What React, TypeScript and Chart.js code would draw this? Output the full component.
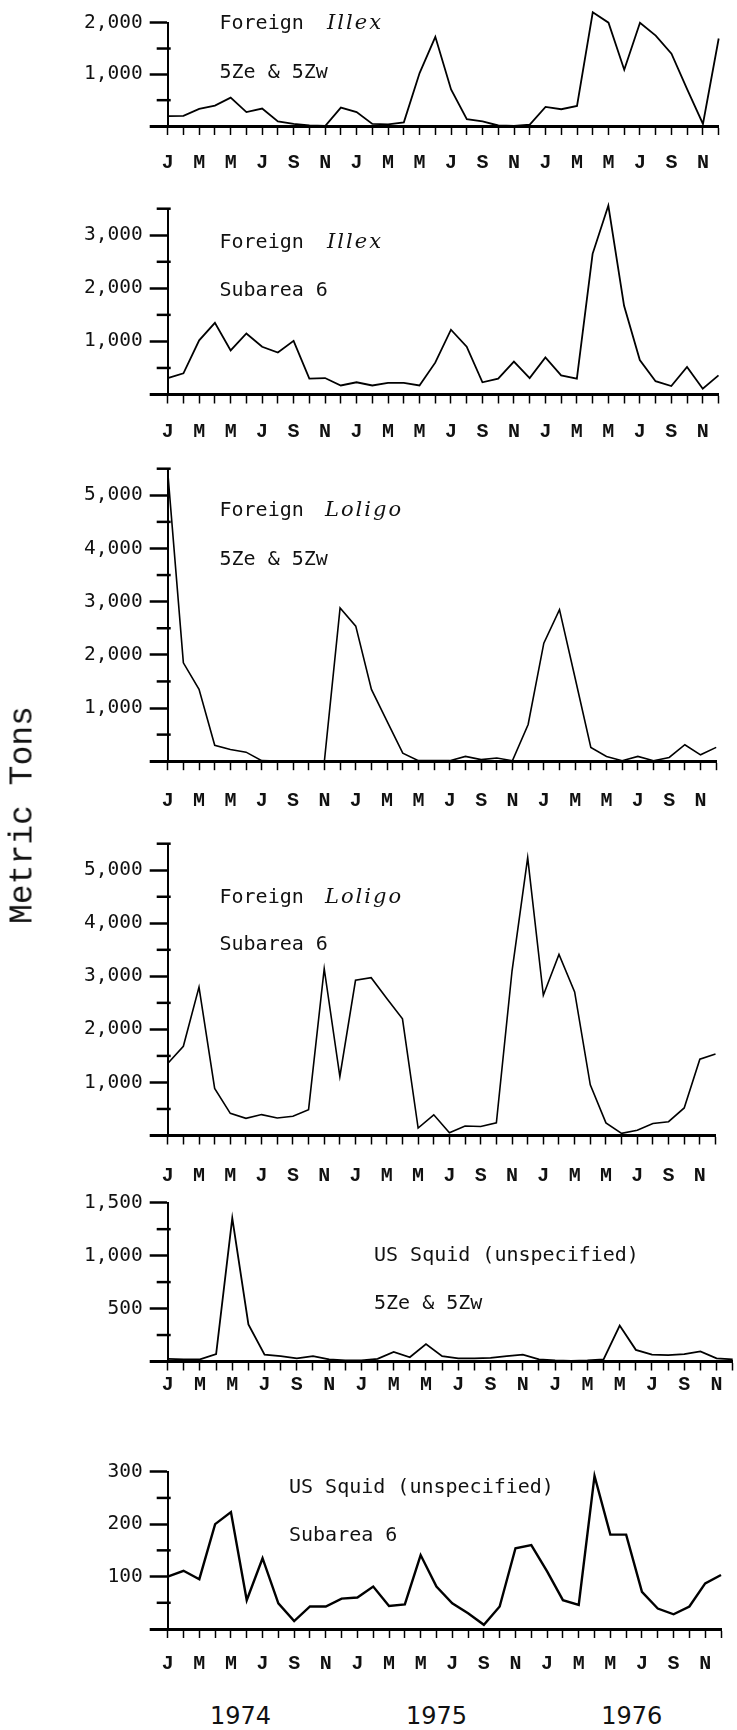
import React, { useEffect, useRef } from 'react';
import { Chart, registerables } from 'chart.js';

Chart.register(...registerables);

// ---------- data ----------
const MONTHS = ['J', 'F', 'M', 'A', 'M', 'J', 'J', 'A', 'S', 'O', 'N', 'D'];
const categories = [...MONTHS, ...MONTHS, ...MONTHS]; // Jan 1974 .. Dec 1976
const years = ['1974', '1975', '1976'];

const foreignIllex5Z = [
  190, 195, 330, 395, 550, 270, 338, 90, 40, 10, 0, 357,
  270, 40, 30, 70, 1025, 1726, 707, 134, 90, 10, 0, 25,
  369, 325, 389, 2200, 2000, 1090, 2000, 1750, 1400, 707, 40, 1694,
];
const foreignIllexSA6 = [
  310, 400, 1020, 1350, 830, 1150, 900, 790, 1010, 300, 310, 170,
  230, 170, 220, 220, 170, 600, 1220, 900, 230, 300, 620, 310,
  700, 360, 300, 2650, 3560, 1670, 650, 250, 160, 520, 110, 360,
];
const foreignLoligo5Z = [
  5450, 1850, 1350, 300, 220, 170, 10, 5, 5, 5, 5, 2880,
  2540, 1350, 750, 150, 10, 10, 10, 90, 30, 60, 10, 690,
  2220, 2850, 1560, 260, 90, 10, 90, 10, 70, 310, 120, 260,
];
const foreignLoligoSA6 = [
  1357, 1682, 2797, 887, 417, 323, 394, 331, 362, 487, 3144, 1112,
  2925, 2975, 2581, 2200, 140, 390, 50, 180, 170, 240, 3100, 5237,
  2644, 3412, 2706, 956, 237, 40, 100, 225, 260, 519, 1438, 1538,
];
const usSquid5Z = [
  25, 20, 20, 70, 1355, 350, 65, 50, 30, 50, 20, 10,
  10, 25, 90, 40, 165, 50, 30, 30, 35, 50, 65, 20,
  10, 5, 10, 20, 340, 110, 65, 60, 70, 95, 30, 20,
];
const usSquidSA6 = [
  100, 111, 95, 200, 223, 55, 135, 49, 15, 43, 43, 58,
  60, 81, 44, 47, 141, 81, 49, 30, 8, 43, 154, 160,
  110, 55, 46, 292, 180, 180, 71, 39, 28, 43, 87, 103,
];

// ---------- layout ----------
const W = 737;
const AXIS_X = 167.7;
const PLOT_RIGHT = 735.4;
const PAD_TOP = 16;
const X_TICK_LEN = 9;
const X_FONT_SIZE = 20;
const MONO = '"DejaVu Sans Mono", monospace';
const TYPE = '"Liberation Mono", "Courier New", monospace';
const NOTE_FONT = `20px ${MONO}`;
const ITALIC_FONT = `italic 21px "DejaVu Serif", serif`;

type Note = { x: number; y: number; text: string; italic?: string; italicX?: number };
type Panel = {
  data: number[];
  max: number;
  major: number;
  minor: number;
  top: number;
  base: number;
  label: number;
  lineWidth: number;
  notes: Note[];
};

const panels: Panel[] = [
  {
    data: foreignIllex5Z, max: 2000, major: 1000, minor: 500,
    top: 20, base: 126, label: 163.3, lineWidth: 1.8,
    notes: [
      { x: 219.5, y: 23.3, text: 'Foreign', italic: 'Illex', italicX: 327 },
      { x: 219.5, y: 72.7, text: '5Ze & 5Zw' },
    ],
  },
  {
    data: foreignIllexSA6, max: 3500, major: 1000, minor: 500,
    top: 206, base: 394.5, label: 432, lineWidth: 1.8,
    notes: [
      { x: 219.5, y: 242.5, text: 'Foreign', italic: 'Illex', italicX: 327 },
      { x: 219.5, y: 291, text: 'Subarea 6' },
    ],
  },
  {
    data: foreignLoligo5Z, max: 5500, major: 1000, minor: 500,
    top: 466, base: 761.2, label: 801, lineWidth: 1.6,
    notes: [
      { x: 219.5, y: 510.7, text: 'Foreign', italic: 'Loligo', italicX: 325 },
      { x: 219.5, y: 559.7, text: '5Ze & 5Zw' },
    ],
  },
  {
    data: foreignLoligoSA6, max: 5500, major: 1000, minor: 500,
    top: 841.7, base: 1135.5, label: 1176, lineWidth: 1.6,
    notes: [
      { x: 219.5, y: 897.3, text: 'Foreign', italic: 'Loligo', italicX: 325 },
      { x: 219.5, y: 945, text: 'Subarea 6' },
    ],
  },
  {
    data: usSquid5Z, max: 1500, major: 500, minor: 250,
    top: 1200.7, base: 1361.5, label: 1384.8, lineWidth: 1.8,
    notes: [
      { x: 374, y: 1255.5, text: 'US Squid (unspecified)' },
      { x: 374, y: 1304, text: '5Ze & 5Zw' },
    ],
  },
  {
    data: usSquidSA6, max: 300, major: 100, minor: 50,
    top: 1469.3, base: 1629, label: 1664, lineWidth: 2.4,
    notes: [
      { x: 289, y: 1487.6, text: 'US Squid (unspecified)' },
      { x: 289, y: 1535.6, text: 'Subarea 6' },
    ],
  },
];

const YEAR_X = [240.5, 436.5, 631.7];
const YEAR_Y = 1716;

function PanelChart({ p }: { p: Panel }) {
  const ref = useRef<HTMLCanvasElement | null>(null);
  const canvasTop = Math.floor(p.top - PAD_TOP);
  const padTop = p.top - canvasTop;
  const xH = p.label - p.base + 16;
  const H = Math.ceil(padTop + (p.base - p.top) + xH);
  const padBottom = H - (padTop + (p.base - p.top) + xH);
  const xPad = p.label - p.base - X_TICK_LEN - X_FONT_SIZE / 2;

  useEffect(() => {
    const canvas = ref.current;
    if (!canvas) return;
    const extras = {
      id: 'panelExtras',
      afterDraw(chart: any) {
        const { ctx, chartArea, scales } = chart;
        const ys = scales.y;
        ctx.save();
        ctx.strokeStyle = '#000';
        ctx.lineWidth = 2.5;
        for (let v = p.minor; v <= p.max; v += p.major) {
          const py = ys.getPixelForValue(v);
          ctx.beginPath();
          ctx.moveTo(chartArea.left - 11, py);
          ctx.lineTo(chartArea.left + 3, py);
          ctx.stroke();
        }
        ctx.fillStyle = '#111';
        ctx.textBaseline = 'middle';
        ctx.textAlign = 'left';
        for (const n of p.notes) {
          ctx.font = NOTE_FONT;
          (ctx as any).letterSpacing = '0px';
          ctx.fillText(n.text, n.x, n.y - canvasTop);
          if (n.italic) {
            ctx.font = ITALIC_FONT;
            (ctx as any).letterSpacing = '2px';
            ctx.fillText(n.italic, n.italicX as number, n.y - canvasTop);
            (ctx as any).letterSpacing = '0px';
          }
        }
        ctx.restore();
      },
    };
    const chart = new Chart(canvas, {
      type: 'line',
      data: {
        labels: categories,
        datasets: [
          {
            data: p.data,
            borderColor: '#000',
            borderWidth: p.lineWidth,
            pointRadius: 0,
            tension: 0,
            fill: false,
            clip: false as any,
          },
        ],
      },
      options: {
        animation: false,
        responsive: false,
        devicePixelRatio: 1,
        layout: { padding: { top: padTop, left: 0, right: W - PLOT_RIGHT, bottom: padBottom } },
        plugins: { legend: { display: false }, tooltip: { enabled: false } },
        scales: {
          x: {
            type: 'category',
            offset: false,
            grid: {
              display: true,
              drawOnChartArea: false,
              drawTicks: true,
              tickLength: X_TICK_LEN,
              tickColor: '#000',
              tickWidth: 1.5,
            },
            border: { display: true, color: '#000', width: 3 },
            ticks: {
              autoSkip: false,
              maxRotation: 0,
              minRotation: 0,
              padding: xPad,
              color: '#111',
              font: { family: TYPE, size: X_FONT_SIZE, weight: 'bold', lineHeight: 1 },
              callback: (_v: any, i: number) => (i % 2 === 0 ? categories[i] : ''),
            },
            afterFit: (s: any) => {
              s.height = xH;
            },
          },
          y: {
            min: 0,
            max: p.max,
            grid: {
              display: true,
              drawOnChartArea: false,
              drawTicks: true,
              tickLength: 18,
              tickColor: (c: any) => (c.tick && c.tick.value % p.major === 0 ? '#000' : 'rgba(0,0,0,0)'),
              tickWidth: (c: any) => (c.tick && c.tick.value === 0 ? 3 : 2.5),
            },
            border: { display: true, color: '#000', width: 2 },
            ticks: {
              stepSize: p.minor,
              autoSkip: false,
              padding: 7,
              color: '#111',
              font: { family: MONO, size: 19.5, lineHeight: 1.2 },
              callback: (v: any) =>
                Number(v) !== 0 && Number(v) % p.major === 0 ? Number(v).toLocaleString('en-US') : '',
            },
            afterFit: (s: any) => {
              s.width = AXIS_X;
            },
          },
        },
      },
      plugins: [extras],
    } as any);
    return () => chart.destroy();
  }, []);

  return (
    <canvas
      ref={ref}
      width={W}
      height={H}
      style={{ position: 'absolute', left: 0, top: canvasTop, width: W, height: H }}
    />
  );
}

export default function App() {
  return (
    <div
      style={{
        position: 'absolute',
        left: 0,
        top: 0,
        width: W,
        height: 1730,
        background: '#fff',
        overflow: 'hidden',
      }}
    >
      {panels.map((p, i) => (
        <PanelChart key={i} p={p} />
      ))}
      <div
        style={{
          position: 'absolute',
          left: 23,
          top: 815,
          transform: 'translate(-50%, -50%) rotate(-90deg)',
          font: `33px ${TYPE}`,
          color: '#111',
          whiteSpace: 'nowrap',
          lineHeight: 1,
        }}
      >
        Metric Tons
      </div>
      {years.map((y, i) => (
        <div
          key={y}
          style={{
            position: 'absolute',
            left: YEAR_X[i],
            top: YEAR_Y,
            transform: 'translate(-50%, -50%)',
            font: '24px "DejaVu Sans", sans-serif',
            color: '#111',
            whiteSpace: 'nowrap',
            lineHeight: 1,
          }}
        >
          {y}
        </div>
      ))}
    </div>
  );
}
